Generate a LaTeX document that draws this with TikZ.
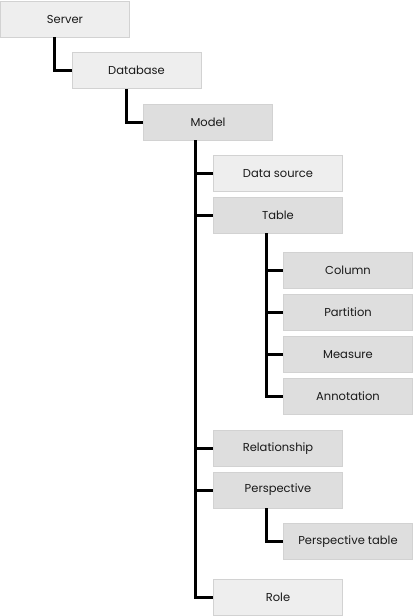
\documentclass[tikz,border=0pt]{standalone}
\usepackage{fontspec}
\setmainfont{Poppins}
\usetikzlibrary{calc}
\definecolor{lightfill}{HTML}{EEEEEE}
\definecolor{darkfill}{HTML}{DEDEDE}
\definecolor{boxline}{HTML}{D2D2D2}
\begin{document}
\begin{tikzpicture}[x=1pt,y=-1pt,
  box/.style={draw=boxline,line width=0.8pt,minimum width=129pt,minimum height=36pt,inner sep=0pt,font=\fontsize{11.5}{13}\selectfont,text=black!90},
  lbox/.style={box,fill=lightfill},
  dbox/.style={box,fill=darkfill},
  conn/.style={line width=3pt,black}]
\useasboundingbox (0,0) rectangle (413,616);
\node[lbox] (server) at (65,19) {Server};
\node[lbox] (database) at (136.5,70.5) {Database};
\node[dbox] (model) at (208,122) {Model};
\node[lbox] (datasource) at (278,173.5) {Data source};
\node[dbox] (table) at (278,215) {Table};
\node[dbox] (column) at (348,270.5) {Column};
\node[dbox] (partition) at (348,312.5) {Partition};
\node[dbox] (measure) at (348,354.5) {Measure};
\node[dbox] (annotation) at (348,396.5) {Annotation};
\node[dbox] (relationship) at (278,448.5) {Relationship};
\node[dbox] (perspective) at (278,490) {Perspective};
\node[dbox] (ptable) at (348,541.5) {Perspective table};
\node[lbox] (role) at (278,597) {Role};
\coordinate (s1) at ($(server.south west)+(54,0)$);
\coordinate (s2) at ($(database.south west)+(55,0)$);
\coordinate (s3) at ($(model.south west)+(52,0)$);
\coordinate (s4) at ($(table.south west)+(53,0)$);
\coordinate (s5) at ($(perspective.south west)+(53,0)$);
\draw[conn] (s1) |- (database.west);
\draw[conn] (s2) |- (model.west);
\draw[conn] (s3) |- (role.west);
\foreach \c in {datasource,table,relationship,perspective}
  \draw[conn] (s3 |- \c.west) -- (\c.west);
\draw[conn] (s4) |- (annotation.west);
\foreach \c in {column,partition,measure}
  \draw[conn] (s4 |- \c.west) -- (\c.west);
\draw[conn] (s5) |- (ptable.west);
\end{tikzpicture}
\end{document}
